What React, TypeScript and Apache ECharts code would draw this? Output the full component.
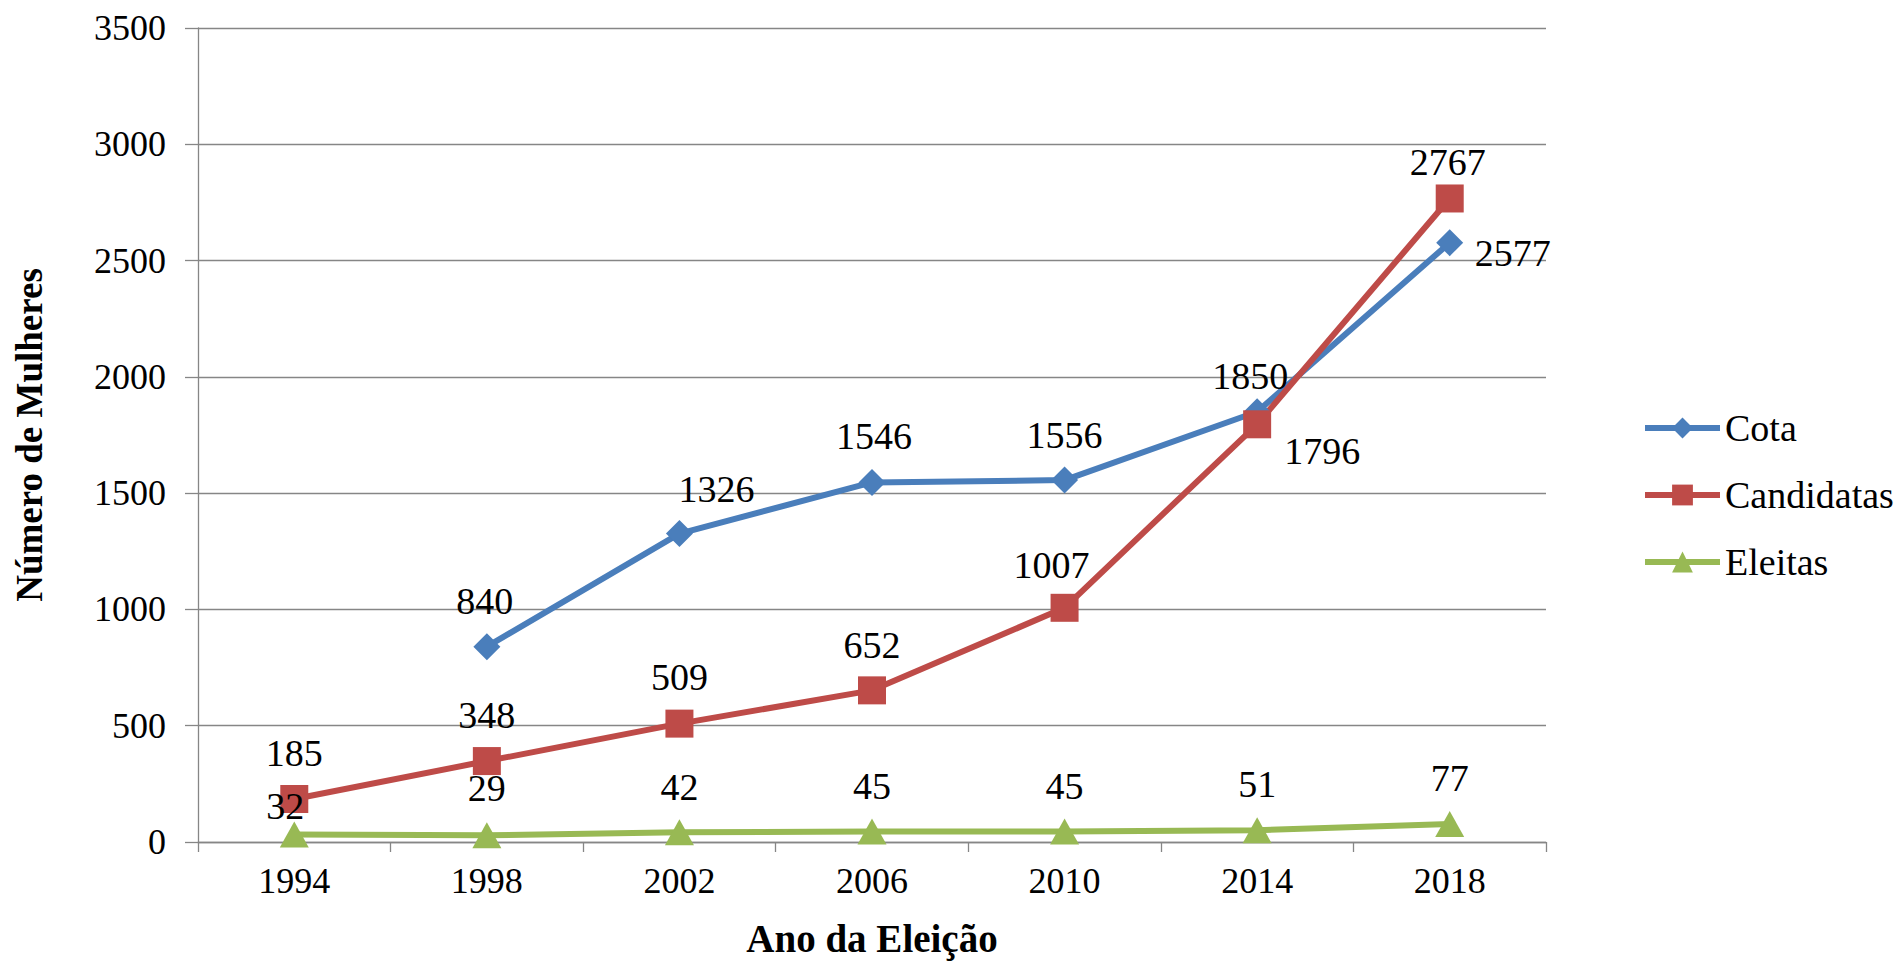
import React, { useEffect, useRef } from "react";
import * as echarts from "echarts";

const categories = ["1994", "1998", "2002", "2006", "2010", "2014", "2018"];
const cotaValues: (number | null)[] = [null, 840, 1326, 1546, 1556, 1850, 2577];
const candidatasValues: number[] = [185, 348, 509, 652, 1007, 1796, 2767];
const eleitasValues: number[] = [32, 29, 42, 45, 45, 51, 77];
const seriesNames = ["Cota", "Candidatas", "Eleitas"];
const yTicks = { min: 0, max: 3500, interval: 500 };

// label offsets (styling, from marker centre)
const cotaLabelOffsets: [number, number][] = [[0, -45], [-2, -46], [37, -45], [2, -46], [0, -45], [-7, -36], [63, 10]];
const candLabelOffsets: [number, number][] = [[0, -46], [0, -46], [0, -47], [0, -45], [-13, -43], [65, 27], [-2, -36]];
const eleitasLabelOffsets: [number, number][] = [[-9, -29], [0, -47], [0, -45], [0, -46], [0, -46], [0, -46], [0, -46]];

const FONT = '"Liberation Serif", "Times New Roman", serif';
const AXIS_GRAY = "#868686";

function buildData(values: (number | null)[], offsets: [number, number][]) {
  return values.map((v, i) =>
    v === null
      ? null
      : {
          value: v,
          label: { offset: offsets[i] },
        }
  );
}

export default function App() {
  const ref = useRef<HTMLDivElement>(null);
  useEffect(() => {
    document.body.style.margin = "0";
    if (!ref.current) return;
    const chart = echarts.init(ref.current, undefined, { renderer: "svg" });
    const labelBase = {
      show: true,
      position: "inside",
      align: "center",
      verticalAlign: "middle",
      color: "#000",
      fontFamily: FONT,
      fontSize: 38,
    };
    const colors = ["#4A7EBB", "#BE4B48", "#98B954"];
    chart.setOption({
      animation: false,
      backgroundColor: "#fff",
      textStyle: { fontFamily: FONT },
      grid: { left: 198, right: 355, top: 28, bottom: 115, containLabel: false },
      legend: {
        orient: "vertical",
        left: 1637,
        top: 404,
        itemWidth: 75,
        itemHeight: 26,
        itemGap: 29,
        textStyle: { fontFamily: FONT, fontSize: 38, color: "#000" },
        lineStyle: { width: 6 },
        data: seriesNames,
      },
      xAxis: {
        type: "category",
        data: categories,
        boundaryGap: true,
        name: "Ano da Eleição",
        nameLocation: "middle",
        nameGap: 77,
        nameTextStyle: { fontFamily: FONT, fontSize: 39, fontWeight: "bold", color: "#000" },
        axisLine: { lineStyle: { color: AXIS_GRAY, width: 1.3 } },
        axisTick: { show: true, length: 10, lineStyle: { color: AXIS_GRAY, width: 1.3 } },
        axisLabel: { margin: 21, fontFamily: FONT, fontSize: 36, color: "#000" },
        splitLine: { show: false },
      },
      yAxis: {
        type: "value",
        min: yTicks.min,
        max: yTicks.max,
        interval: yTicks.interval,
        name: "Número de Mulheres",
        nameLocation: "middle",
        nameGap: 150,
        nameTextStyle: { fontFamily: FONT, fontSize: 37, fontWeight: "bold", color: "#000" },
        axisLine: { show: true, lineStyle: { color: AXIS_GRAY, width: 1.3 } },
        axisTick: { show: true, length: 13, lineStyle: { color: AXIS_GRAY, width: 1.3 } },
        axisLabel: {
          margin: 32,
          fontFamily: FONT,
          fontSize: 36,
          color: "#000",
          formatter: (v: number) => String(v),
        },
        splitLine: { show: true, lineStyle: { color: AXIS_GRAY, width: 1.3 } },
      },
      series: [
        {
          name: seriesNames[0],
          type: "line",
          data: buildData(cotaValues, cotaLabelOffsets),
          connectNulls: false,
          symbol: "diamond",
          symbolSize: 27,
          color: colors[0],
          lineStyle: { width: 6, color: colors[0] },
          itemStyle: { color: colors[0] },
          label: labelBase,
        },
        {
          name: seriesNames[1],
          type: "line",
          data: buildData(candidatasValues, candLabelOffsets),
          symbol: "rect",
          symbolSize: 28,
          color: colors[1],
          lineStyle: { width: 6, color: colors[1] },
          itemStyle: { color: colors[1] },
          label: labelBase,
        },
        {
          name: seriesNames[2],
          type: "line",
          data: buildData(eleitasValues, eleitasLabelOffsets),
          symbol: "triangle",
          symbolSize: [29, 26],
          color: colors[2],
          lineStyle: { width: 6, color: colors[2] },
          itemStyle: { color: colors[2] },
          label: labelBase,
        },
      ],
    });
    return () => chart.dispose();
  }, []);
  return <div ref={ref} style={{ width: 1901, height: 963 }} />;
}
